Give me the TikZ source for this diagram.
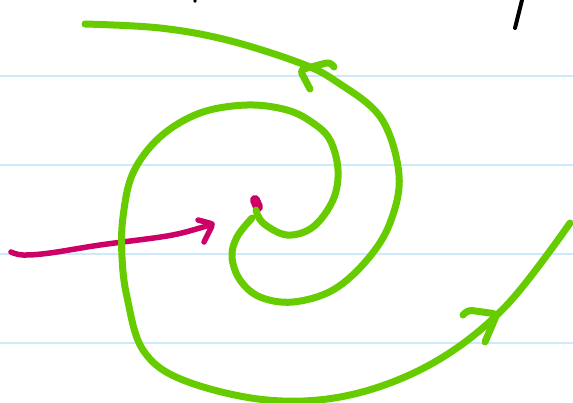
\documentclass[tikz,border=0pt]{standalone}
\usepackage{tikz}
\definecolor{inkgreen}{RGB}{102,204,0}
\definecolor{inkred}{RGB}{204,0,102}
\definecolor{ruleblue}{RGB}{206,234,250}

\begin{document}
\begin{tikzpicture}[x=1pt,y=-1pt]
	\tikzstyle{ruled}=[ruleblue, line width=2pt]
	\tikzstyle{green ink}=[inkgreen, line width=7pt, line cap=round, line join=round]
	\tikzstyle{red ink}=[inkred, line width=5.5pt, line cap=round, line join=round]
	\tikzstyle{black ink}=[black, line width=4pt, line cap=round]
	
	\fill[white] (0,0) rectangle (573,402);
	\useasboundingbox (0,0) rectangle (573,402);
	
	% ruled paper
	\foreach \y in {76,165,254,343}
		\draw[ruled] (0,\y) -- (573,\y);
	
	% bits of handwriting cut off at the top
	\draw[black ink] (515,28) -- (522,0);
	\fill (195,1) circle (1.8);
	
	% the point and the arrow to it
	\draw[inkred, line width=10pt, line cap=round] (255,200) -- (258,207);
	\draw[red ink] plot[smooth, tension=0.6] coordinates {(11,252) (23,255) (50,253) (100,245) (167,236) (200,228) (212,224)};
	\draw[red ink, rounded corners=3pt] (198,220) -- (213,224) -- (204,242);
	
	% outer spiral
	\draw[green ink] plot[smooth, tension=0.6] coordinates {(252,218) (237,237) (232,257) (240,280) (260,297) (293,302) (333,290) (367,260) (390,223) (399,175) (381,118) (337,82) (300,63) (227,40) (160,28) (85,24)};
	\draw[green ink, rounded corners=4pt] (310,89) -- (300,70) -- (330,62) -- (334,67);
	
	% inner spiral
	\draw[green ink] plot[smooth, tension=0.6] coordinates {(256,210) (263,223) (287,235) (313,227) (333,200) (338,170) (330,140) (313,123) (287,110) (247,105) (200,113) (160,137) (133,173) (123,217) (122,257) (127,297) (143,350) (183,380) (267,400) (350,395) (433,363) (505,307) (570,223)};
	\draw[green ink, rounded corners=4pt] (463,315) -- (468,310) -- (497,314) -- (485,342);
\end{tikzpicture}
\end{document}
